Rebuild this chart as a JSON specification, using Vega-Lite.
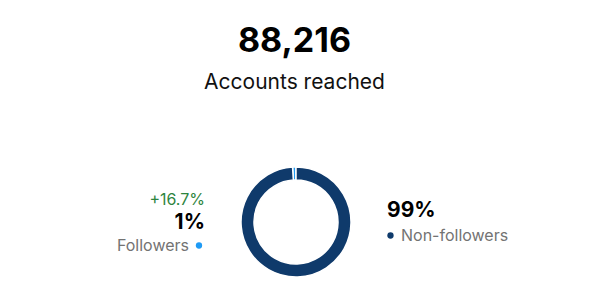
{
  "$schema": "https://vega.github.io/schema/vega-lite/v6.json",
  "padding": {"top": 25, "left": 0, "right": 0, "bottom": 12},
  "bounds": "flush",
  "title": {
    "text": "88,216",
    "subtitle": "Accounts reached",
    "anchor": "middle",
    "font": "Inter",
    "fontSize": 34,
    "fontWeight": "bold",
    "color": "#000000",
    "subtitleFont": "Inter",
    "subtitleFontSize": 21,
    "subtitleColor": "#111111",
    "subtitlePadding": 13,
    "offset": 71
  },
  "datasets": {
    "reach": [
      {"segment": "Followers", "share": 1, "pct": "1%", "change": "+16.7%"},
      {"segment": "Non-followers", "share": 99, "pct": "99%", "change": ""}
    ]
  },
  "spacing": 36,
  "hconcat": [
    {
      "width": 205,
      "height": 110,
      "data": {"name": "reach"},
      "transform": [{"filter": "datum.segment === 'Followers'"}],
      "layer": [
        {
          "mark": {"type": "text", "align": "right", "baseline": "middle", "font": "Inter", "fontSize": 16, "color": "#2e8540"},
          "encoding": {
            "text": {"field": "change"},
            "x": {"datum": "edge", "type": "nominal", "scale": {"type": "point", "domain": ["dot", "edge"], "range": [199, 205], "padding": 0}, "axis": null},
            "y": {"datum": "change", "type": "nominal", "scale": {"type": "point", "domain": ["change", "pct", "label"], "range": [33, 78.5], "padding": 0}, "axis": null}
          }
        },
        {
          "mark": {"type": "text", "align": "right", "baseline": "middle", "font": "Inter", "fontSize": 21, "fontWeight": "bold", "color": "#000000"},
          "encoding": {
            "text": {"field": "pct"},
            "x": {"datum": "edge", "type": "nominal"},
            "y": {"datum": "pct", "type": "nominal"}
          }
        },
        {
          "mark": {"type": "text", "align": "right", "baseline": "middle", "font": "Inter", "fontSize": 16, "color": "#737373", "dx": -10},
          "encoding": {
            "text": {"field": "segment"},
            "x": {"datum": "dot", "type": "nominal"},
            "y": {"datum": "label", "type": "nominal"}
          }
        },
        {
          "mark": {"type": "point", "filled": true, "size": 40, "opacity": 1},
          "encoding": {
            "x": {"datum": "dot", "type": "nominal"},
            "y": {"datum": "label", "type": "nominal"},
            "color": {"field": "segment", "type": "nominal", "scale": {"domain": ["Followers", "Non-followers"], "range": ["#1f9bf5", "#0f3a6b"]}, "legend": null}
          }
        }
      ]
    },
    {
      "width": 110,
      "height": 110,
      "data": {"name": "reach"},
      "mark": {"type": "arc", "innerRadius": 42, "outerRadius": 55, "stroke": "#ffffff", "strokeWidth": 1.5},
      "encoding": {
        "theta": {"field": "share", "type": "quantitative", "stack": true},
        "order": {"field": "share", "type": "quantitative", "sort": "descending"},
        "color": {"field": "segment", "type": "nominal", "scale": {"domain": ["Followers", "Non-followers"], "range": ["#1f9bf5", "#0f3a6b"]}, "legend": null}
      }
    },
    {
      "width": 202,
      "height": 110,
      "data": {"name": "reach"},
      "transform": [{"filter": "datum.segment === 'Non-followers'"}],
      "layer": [
        {
          "mark": {"type": "text", "align": "left", "baseline": "middle", "font": "Inter", "fontSize": 21, "fontWeight": "bold", "color": "#000000"},
          "encoding": {
            "text": {"field": "pct"},
            "x": {"datum": "edge", "type": "nominal", "scale": {"type": "point", "domain": ["edge", "dot"], "range": [0, 3.5], "padding": 0}, "axis": null},
            "y": {"datum": "pct", "type": "nominal", "scale": {"type": "point", "domain": ["pct", "label"], "range": [44, 68.5], "padding": 0}, "axis": null}
          }
        },
        {
          "mark": {"type": "point", "filled": true, "size": 40, "opacity": 1},
          "encoding": {
            "x": {"datum": "dot", "type": "nominal"},
            "y": {"datum": "label", "type": "nominal"},
            "color": {"field": "segment", "type": "nominal", "scale": {"domain": ["Followers", "Non-followers"], "range": ["#1f9bf5", "#0f3a6b"]}, "legend": null}
          }
        },
        {
          "mark": {"type": "text", "align": "left", "baseline": "middle", "font": "Inter", "fontSize": 16, "color": "#737373", "dx": 10.5},
          "encoding": {
            "text": {"field": "segment"},
            "x": {"datum": "dot", "type": "nominal"},
            "y": {"datum": "label", "type": "nominal"}
          }
        }
      ]
    }
  ],
  "config": {"view": {"stroke": null}, "font": "Inter"}
}
